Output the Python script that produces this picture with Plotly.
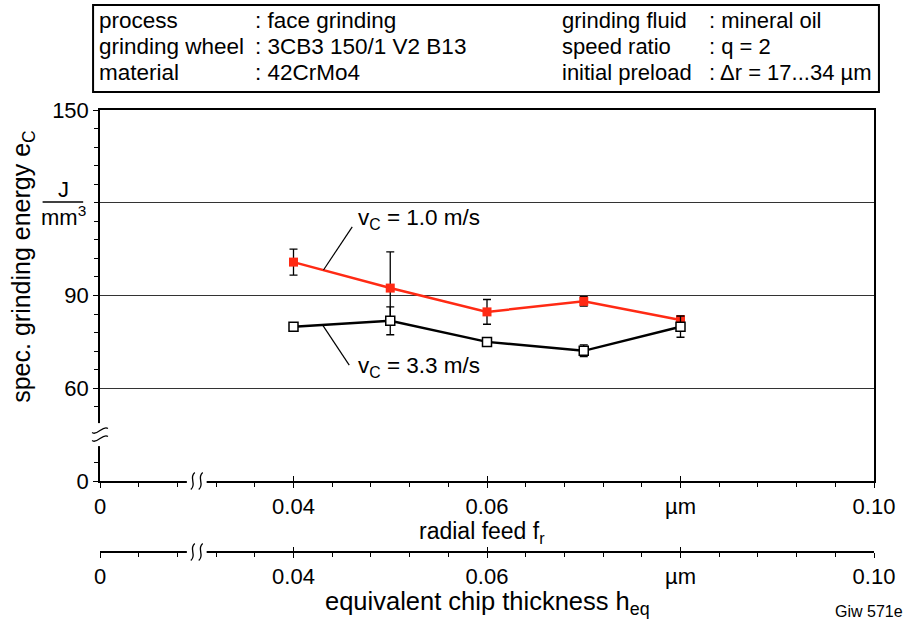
import plotly.graph_objects as go

# ---- data ----
feed = [0.04, 0.05, 0.06, 0.07, 0.08]
ec_v10 = [100.8, 92.4, 84.7, 88.1, 82.1]
err_v10 = [4.2, 11.7, 4.0, 1.5, 1.4]
ec_v33 = [79.9, 81.8, 75.0, 72.1, 79.9]
err_v33 = [0.4, 4.5, 0.6, 1.9, 3.4]

x_alias = {"0.02": "0", "0.08": "µm"}
y_alias = {"30": "0", "120": ""}

info_left_keys = ["process", "grinding wheel", "material"]
info_left_vals = [": face grinding", ": 3CB3 150/1 V2 B13", ": 42CrMo4"]
info_right_keys = ["grinding fluid", "speed ratio", "initial preload"]
info_right_vals = [": mineral oil", ": q = 2", ": Δr = 17...34 µm"]

FONT = "Liberation Sans, Arial, Helvetica, sans-serif"
RED = "#ff2a14"

W, H = 907, 623
ML, MR, MT, MB = 100, 25, 110, 71
PW, PH = W - ML - MR, H - MT - MB
PLOT_BOTTOM = 481


def px(xp):
    return (xp - ML) / PW


def py(yp):
    return (H - MB - yp) / PH


minor_x = [round(0.02 + 0.004 * i, 4) for i in range(21)]
minor_y = [30 + 6 * i for i in range(21)]

fig = go.Figure()

fig.add_trace(go.Scatter(
    x=feed, y=ec_v10, mode="lines+markers",
    line=dict(color=RED, width=2.5),
    marker=dict(symbol="square", size=9, color=RED),
    error_y=dict(type="data", array=err_v10, color="black", thickness=1.3, width=4),
    showlegend=False, hoverinfo="skip"))
fig.add_trace(go.Scatter(
    x=feed, y=ec_v33, mode="lines+markers",
    line=dict(color="black", width=2.5),
    marker=dict(symbol="square", size=9, color="white", line=dict(color="black", width=1.5)),
    error_y=dict(type="data", array=err_v33, color="black", thickness=1.3, width=4),
    showlegend=False, hoverinfo="skip"))
for xa in ["x2", "x3", "x4"]:
    fig.add_trace(go.Scatter(x=[], y=[], xaxis=xa, yaxis="y", showlegend=False, hoverinfo="skip"))

TICKFONT = dict(family=FONT, size=22, color="black")
common_x = dict(range=[0.02, 0.10], tickmode="linear", tick0=0.02, dtick=0.02, tickformat=".2f",
                labelalias=x_alias, tickcolor="black", tickwidth=1.3,
                zeroline=False, showgrid=False, tickfont=TICKFONT)
minor_x_cfg = dict(tickmode="array", tickvals=minor_x, ticks="outside",
                   ticklen=4, tickcolor="black", tickwidth=1.3, showgrid=False)

fig.update_layout(
    width=W, height=H,
    margin=dict(l=ML, r=MR, t=MT, b=MB),
    paper_bgcolor="white", plot_bgcolor="white",
    showlegend=False,
    font=dict(family=FONT, size=22, color="black"),
    xaxis=dict(**common_x, anchor="y", ticks="outside", ticklen=5,
               showline=True, linecolor="black", linewidth=1.5, mirror=True,
               minor=minor_x_cfg),
    xaxis2=dict(**common_x, anchor="free", position=0, overlaying="x", ticks="outside", ticklen=5,
                showline=True, linecolor="black", linewidth=1.5, minor=minor_x_cfg),
    xaxis3=dict(**common_x, anchor="y", overlaying="x", ticks="inside", ticklen=5,
                showticklabels=False, showline=False),
    xaxis4=dict(**common_x, anchor="free", position=0, overlaying="x", ticks="inside", ticklen=5,
                showticklabels=False, showline=False),
    yaxis=dict(range=[30, 150], domain=[py(PLOT_BOTTOM), 1], anchor="x",
               tickmode="linear", tick0=30, dtick=30, labelalias=y_alias,
               ticks="outside", ticklen=5, tickcolor="black", tickwidth=1.3,
               showline=True, linecolor="black", linewidth=1.5, mirror=True,
               showgrid=True, gridcolor="#333333", gridwidth=1, zeroline=False,
               tickfont=TICKFONT,
               minor=dict(tickmode="array", tickvals=minor_y, ticks="outside",
                          ticklen=4, tickcolor="black", tickwidth=1.3, showgrid=False)),
)

shapes = []
# info box
shapes.append(dict(type="rect", xref="paper", yref="paper",
                   x0=px(93), x1=px(887), y0=py(92), y1=py(5),
                   line=dict(color="black", width=2), fillcolor="rgba(0,0,0,0)"))
# unit fraction bar
shapes.append(dict(type="line", xref="paper", yref="paper", x0=px(42), x1=px(83), y0=py(202), y1=py(202),
                   line=dict(color="black", width=1.3)))
# leader lines
shapes.append(dict(type="line", xref="x", yref="y", x0=0.0431, y0=98.25, x1=0.04607, y1=112.2,
                   line=dict(color="black", width=1.2)))
shapes.append(dict(type="line", xref="x", yref="y", x0=0.0430, y0=80.5, x1=0.04576, y1=67.5,
                   line=dict(color="black", width=1.2)))


def P(xp, yp):
    return f"{px(xp):.5f},{py(yp):.5f}"


def x_break(cx, cy):
    s = [dict(type="path", xref="paper", yref="paper",
              path=f"M {P(cx-10, cy-3)} L {P(cx+10, cy-3)} L {P(cx+10, cy+3)} L {P(cx-10, cy+3)} Z",
              fillcolor="white", line=dict(width=0))]
    for o in (-4, 4):
        x = cx + o
        s.append(dict(type="path", xref="paper", yref="paper",
                      path=f"M {P(x-2, cy+8.5)} C {P(x+4.5, cy+3)} {P(x-4.5, cy-3)} {P(x+2, cy-8.5)}",
                      line=dict(color="black", width=1.3)))
    return s


XB = 197.75
shapes += x_break(XB, 481)
shapes += x_break(XB, 552)

# y-axis break
YB = 434.6
shapes.append(dict(type="path", xref="paper", yref="paper",
                   path=f"M {P(92, YB-11.5)} L {P(103, YB-11.5)} L {P(103, YB+11.5)} L {P(92, YB+11.5)} Z",
                   fillcolor="white", line=dict(width=0)))
for o in (-4, 4):
    y = YB + o
    shapes.append(dict(type="path", xref="paper", yref="paper",
                       path=f"M {P(92, y+2)} C {P(97, y+6)} {P(103, y-6)} {P(108, y-2)}",
                       line=dict(color="black", width=1.3)))

fig.update_layout(shapes=shapes)

ann = []


def txt(text, x, y, size=22, xanchor="left", yanchor="middle", xref="paper", yref="paper", **kw):
    ann.append(dict(text=text, x=x, y=y, xref=xref, yref=yref, xanchor=xanchor, yanchor=yanchor,
                    showarrow=False, font=dict(family=FONT, size=size, color="black"), **kw))


rows_y = [20, 46, 72]
for i in range(3):
    txt(info_left_keys[i], px(97), py(rows_y[i]), size=22.5)
    txt(info_left_vals[i], px(255), py(rows_y[i]), size=22.5)
    txt(info_right_keys[i], px(565), py(rows_y[i]), size=22)
    txt(info_right_vals[i], px(713), py(rows_y[i]), size=22)

txt("spec. grinding energy e<sub>C</sub>", px(22), py(266), size=25, xanchor="center", textangle=-90)
txt("J", px(63), py(189), xanchor="center")
txt("mm<sup>3</sup>", px(63), py(216), xanchor="center")
txt("radial feed f<sub>r</sub>", px(486), py(532), size=23, xanchor="center")
txt("equivalent chip thickness h<sub>eq</sub>", px(491), py(603), size=25.5, xanchor="center")
txt("Giw 571e", px(913), py(611), size=16, xanchor="right")
txt("v<sub>C</sub> = 1.0 m/s", 0.0465, 114.6, size=22.5, xref="x", yref="y")
txt("v<sub>C</sub> = 3.3 m/s", 0.0465, 66.9, size=22.5, xref="x", yref="y")

fig.update_layout(annotations=ann)

fig.write_html("out.html")
